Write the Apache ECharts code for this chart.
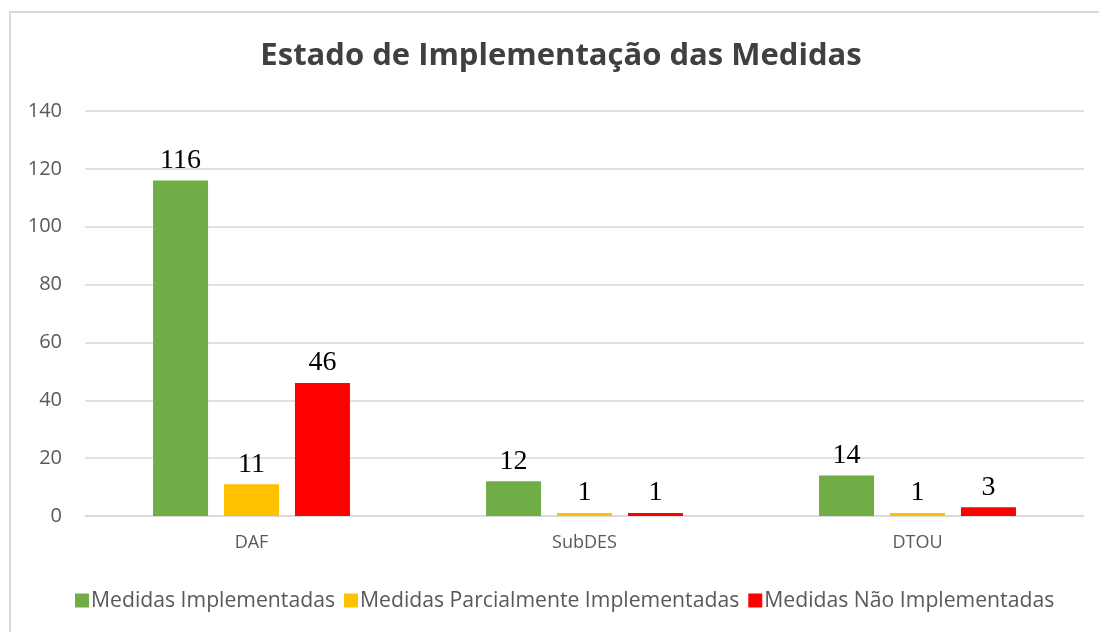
<!DOCTYPE html>
<html>
<head>
<meta charset="utf-8">
<script src="https://cdn.jsdelivr.net/npm/echarts@6/dist/echarts.min.js"></script>
<style>
  html, body { margin: 0; padding: 0; background: #fff; }
  #frame {
    position: absolute;
    left: 9px;
    top: 11px;
    width: 1200px;
    height: 700px;
    border: 2px solid #d9d9d9;
    box-sizing: border-box;
  }
  #chart { position: absolute; left: 0; top: 0; width: 1099px; height: 632px; }
</style>
</head>
<body>
<div id="frame"></div>
<div id="chart"></div>
<script>
// categorias e valores
const categories = ['DAF', 'SubDES', 'DTOU'];
const implementadas = [116, 12, 14];
const parciais = [11, 1, 1];
const naoImplementadas = [46, 1, 3];
const yTicks = [0, 20, 40, 60, 80, 100, 120, 140];

const chart = echarts.init(document.getElementById('chart'));

const labelStyle = {
  show: true,
  position: 'top',
  distance: 6,
  color: '#000',
  fontFamily: 'Liberation Serif',
  fontSize: 28,
};

const option = {
  animation: false,
  title: {
    text: 'Estado de Implementação das Medidas',
    left: 556,
    textAlign: 'center',
    top: 36,
    textStyle: {
      color: '#404040',
      fontFamily: 'Open Sans',
      fontWeight: 'bold',
      fontSize: 31,
    },
  },
  legend: {
    bottom: 16,
    left: 70,
    padding: 5,
    itemWidth: 14,
    itemHeight: 14,
    itemGap: 9,
    icon: 'rect',
    textStyle: {
      color: '#595959',
      fontFamily: 'Open Sans',
      fontSize: 21.2,
      padding: [0, 0, 0, -3],
    },
  },
  grid: {
    left: 85,
    right: 15,
    top: 111,
    bottom: 116,
  },
  xAxis: {
    type: 'category',
    data: categories,
    axisLine: { lineStyle: { color: '#d9d9d9', width: 1.5 } },
    axisTick: { show: false },
    axisLabel: {
      color: '#595959',
      fontFamily: 'Open Sans',
      fontSize: 18,
      margin: 18,
    },
  },
  yAxis: {
    type: 'value',
    min: yTicks[0],
    max: yTicks[yTicks.length - 1],
    interval: 20,
    axisLine: { show: false },
    axisTick: { show: false },
    splitLine: { lineStyle: { color: '#d9d9d9', width: 1.5 } },
    axisLabel: {
      color: '#595959',
      fontFamily: 'Open Sans',
      fontSize: 20,
      margin: 23,
    },
  },
  series: [
    {
      name: 'Medidas Implementadas',
      type: 'bar',
      data: implementadas,
      barWidth: 55,
      barGap: '29%',
      itemStyle: { color: '#70ad47' },
      label: labelStyle,
    },
    {
      name: 'Medidas Parcialmente Implementadas',
      type: 'bar',
      data: parciais,
      barWidth: 55,
      barGap: '29%',
      itemStyle: { color: '#ffc000' },
      label: labelStyle,
    },
    {
      name: 'Medidas Não Implementadas',
      type: 'bar',
      data: naoImplementadas,
      barWidth: 55,
      barGap: '29%',
      itemStyle: { color: '#ff0000' },
      label: labelStyle,
    },
  ],
};

chart.setOption(option);
</script>
</body>
</html>
